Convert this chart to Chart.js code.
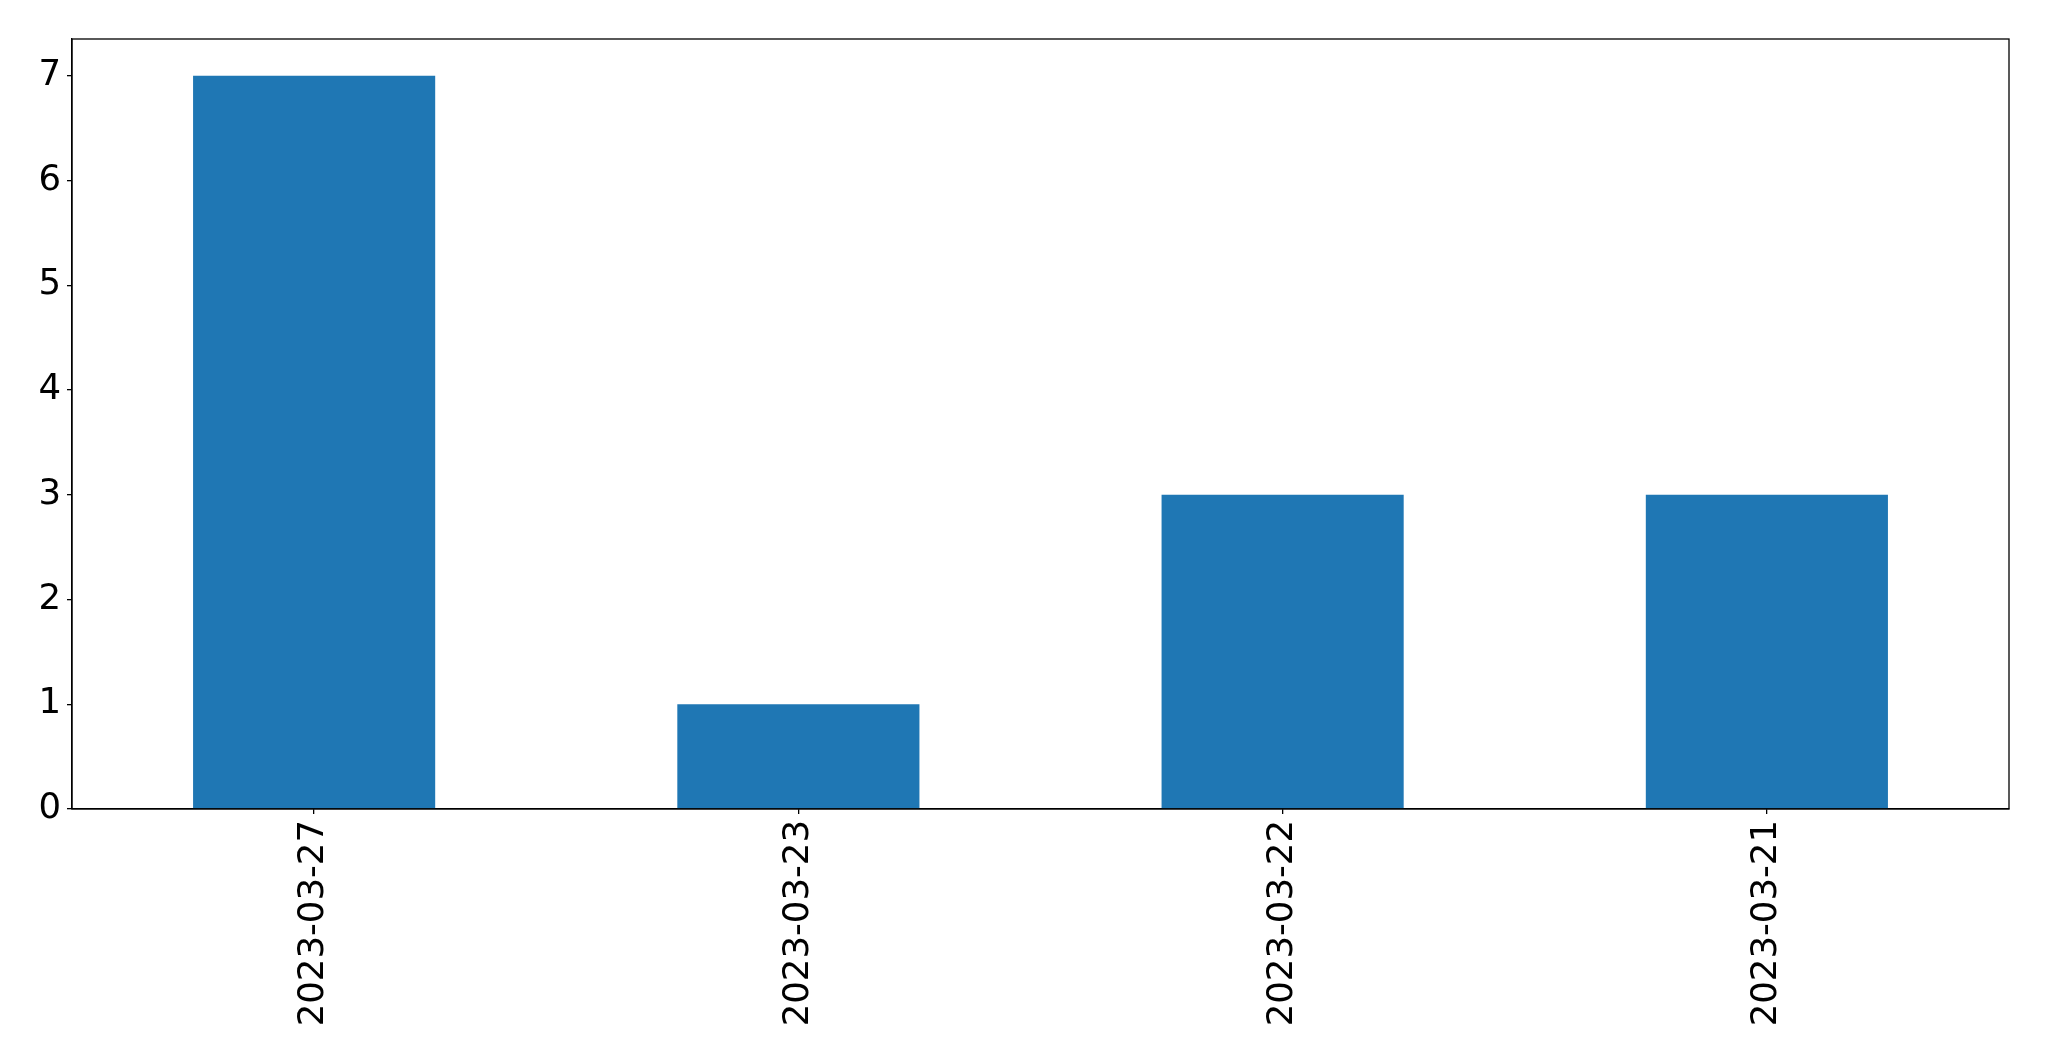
<!DOCTYPE html>
<html>
<head>
<meta charset="utf-8">
<script src="https://cdn.jsdelivr.net/npm/chart.js@4/dist/chart.umd.min.js"></script>
<style>
  html, body { margin: 0; padding: 0; background: #fff; }
  #wrap { width: 2049px; height: 1061px; }
</style>
</head>
<body>
<div id="wrap"><canvas id="chart"></canvas></div>
<script>
// data
const dates = ['2023-03-27', '2023-03-23', '2023-03-22', '2023-03-21'];
const counts = [7, 1, 3, 3];
const yTicks = [0, 1, 2, 3, 4, 5, 6, 7];
const yMax = 7.35; // 7 plus matplotlib's 5% margin

// draws the top and right edges of the axes box
const frame = {
    id: 'frame',
    afterDraw(chart) {
        const a = chart.chartArea;
        const ctx = chart.ctx;
        ctx.save();
        ctx.strokeStyle = '#000';
        ctx.lineWidth = 1.3;
        ctx.strokeRect(a.left, a.top, a.right - a.left, a.bottom - a.top);
        ctx.restore();
    }
};

const ctx = document.getElementById('chart').getContext('2d');
new Chart(ctx, {
    type: 'bar',
    data: {
        labels: dates,
        datasets: [{
            data: counts,
            backgroundColor: '#1f77b4',
            categoryPercentage: 1,
            barPercentage: 0.5
        }]
    },
    options: {
        responsive: true,
        maintainAspectRatio: false,
        animation: false,
        layout: { padding: { top: 39, right: 40, left: 0, bottom: 0 } },
        plugins: {
            legend: { display: false },
            tooltip: { enabled: false }
        },
        scales: {
            x: {
                border: { display: true, color: '#000', width: 1.3 },
                grid: { offset: false, drawOnChartArea: false, drawTicks: true, tickLength: 5, color: '#000', lineWidth: 1.3 },
                ticks: {
                    color: '#000',
                    minRotation: 90,
                    maxRotation: 90,
                    padding: 6,
                    font: { family: 'DejaVu Sans', size: 35.5 }
                },
                afterFit(scale) { scale.height = 252; }
            },
            y: {
                min: 0,
                max: yMax,
                border: { display: true, color: '#000', width: 1.3 },
                grid: { drawOnChartArea: false, drawTicks: true, tickLength: 5, color: '#000', lineWidth: 1.3 },
                ticks: {
                    color: '#000',
                    padding: 6,
                    autoSkip: false,
                    font: { family: 'DejaVu Sans', size: 35.5 }
                },
                afterBuildTicks(scale) {
                    scale.ticks = yTicks.map(v => ({ value: v }));
                },
                afterFit(scale) { scale.width = 72; }
            }
        }
    },
    plugins: [frame]
});
</script>
</body>
</html>
